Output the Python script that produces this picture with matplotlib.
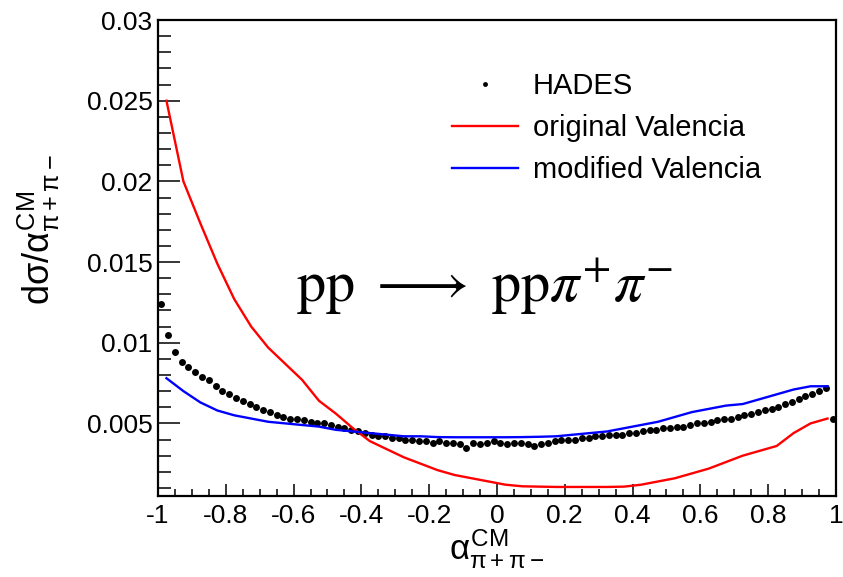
#!/usr/bin/env python3
"""
pp -> pp pi+ pi- : opening angle distribution, HADES data vs Valencia model
"""

import matplotlib
matplotlib.use('Agg')
import matplotlib.pyplot as plt
import numpy as np
from matplotlib.ticker import MultipleLocator, FuncFormatter

plt.rcParams['font.family'] = ['Liberation Sans', 'DejaVu Sans']
plt.rcParams['mathtext.fontset'] = 'custom'
plt.rcParams['mathtext.rm'] = 'Liberation Sans'
plt.rcParams['mathtext.it'] = 'Liberation Sans'
plt.rcParams['mathtext.bf'] = 'Liberation Sans:bold'

# HADES data points (bin centres every 0.02)
hades_x = np.round(np.arange(-0.99, 1.0, 0.02), 2)
hades_y = [
    0.0124, 0.0105, 0.0094, 0.0088, 0.0085, 0.0082, 0.0079, 0.0077, 0.0073, 0.0070,
    0.0068, 0.0066, 0.0064, 0.0062, 0.0060, 0.0058, 0.0057, 0.0055, 0.0054, 0.0053,
    0.0053, 0.0052, 0.0051, 0.0050, 0.0050, 0.0049, 0.0048, 0.0047, 0.0046, 0.0045,
    0.0044, 0.0043, 0.0042, 0.0042, 0.0041, 0.0041, 0.0040, 0.0040, 0.0039, 0.0039,
    0.0038, 0.0039, 0.0038, 0.0038, 0.0037, 0.0035, 0.0038, 0.0037, 0.0038, 0.0039,
    0.0038, 0.0037, 0.0038, 0.0038, 0.0037, 0.0036, 0.0037, 0.0038, 0.0039, 0.0040,
    0.0040, 0.0040, 0.0041, 0.0041, 0.0042, 0.0042, 0.0043, 0.0043, 0.0043, 0.0044,
    0.0044, 0.0045, 0.0046, 0.0046, 0.0047, 0.0047, 0.0048, 0.0048, 0.0049, 0.0050,
    0.0050, 0.0051, 0.0052, 0.0053, 0.0053, 0.0054, 0.0055, 0.0056, 0.0057, 0.0058,
    0.0059, 0.0060, 0.0062, 0.0063, 0.0065, 0.0067, 0.0068, 0.0070, 0.0072, 0.0053,
]

# model curves (bin centres every 0.05)
model_x = np.round(np.arange(-0.975, 1.0, 0.05), 3)
original_valencia = [
    0.0250, 0.0200, 0.0174, 0.0149, 0.0127, 0.0110, 0.0097, 0.0087, 0.0077, 0.0064,
    0.0056, 0.0047, 0.0039, 0.0034, 0.0029, 0.0025, 0.0021, 0.0018, 0.0016, 0.0014,
    0.0012, 0.0011, 0.00108, 0.00106, 0.00106, 0.00106, 0.00106, 0.00108, 0.0012, 0.0014,
    0.0016, 0.0019, 0.0022, 0.0026, 0.0030, 0.0033, 0.0036, 0.0044, 0.0050, 0.0053,
]
modified_valencia = [
    0.0078, 0.0070, 0.0063, 0.0058, 0.0055, 0.0053, 0.0051, 0.0050, 0.0049, 0.0048,
    0.0046, 0.0045, 0.0044, 0.0043, 0.0042, 0.0042, 0.00415, 0.00414, 0.00414, 0.00414,
    0.00414, 0.00415, 0.00417, 0.0042, 0.0043, 0.0044, 0.0045, 0.0047, 0.0049, 0.0051,
    0.0054, 0.0057, 0.0059, 0.0061, 0.0062, 0.0065, 0.0068, 0.0071, 0.0073, 0.0073,
]

fig = plt.figure(figsize=(8.43, 5.77), dpi=100)
ax = fig.add_axes([0.1874, 0.1404, 0.8043, 0.8249])

ax.plot(hades_x, hades_y, 'o', color='black', ms=5, mew=0, label='HADES')
ax.plot(model_x, original_valencia, color='#ff0000', lw=1.7, label='original Valencia')
ax.plot(model_x, modified_valencia, color='#0000ff', lw=1.7, label='modified Valencia')

ax.set_xlim(-1, 1)
ax.set_ylim(0.0005, 0.03)

ax.xaxis.set_major_locator(MultipleLocator(0.2))
ax.xaxis.set_minor_locator(MultipleLocator(0.05))
ax.yaxis.set_major_locator(MultipleLocator(0.005))
ax.yaxis.set_minor_locator(MultipleLocator(0.001))
ax.xaxis.set_major_formatter(FuncFormatter(lambda v, p: '%g' % round(v, 2) if abs(v) > 1e-9 else '0'))
ax.yaxis.set_major_formatter(FuncFormatter(lambda v, p: '%g' % round(v, 4)))

for s in ax.spines.values():
    s.set_linewidth(1.6)
ax.tick_params(axis='both', which='both', direction='in', top=False, right=False, width=1.1)
ax.tick_params(axis='y', which='major', length=16, pad=4, labelsize=19)
ax.tick_params(axis='y', which='minor', length=9)
ax.tick_params(axis='x', which='major', length=9, pad=6, labelsize=19)
ax.tick_params(axis='x', which='minor', length=5)

ax.set_xlabel(r'$\alpha^{CM}_{\pi+\pi-}$', fontsize=25)
ax.xaxis.set_label_coords(0.5, -0.066)
ax.set_ylabel(r'd$\sigma$/$\alpha^{CM}_{\pi+\pi-}$', fontsize=26)
ax.yaxis.set_label_coords(-0.142, 0.56)

ax.legend(loc='upper left', bbox_to_anchor=(0.434, 0.89), frameon=False, fontsize=21,
          handlelength=2.26, handletextpad=0.5, labelspacing=0.48, borderpad=0,
          borderaxespad=0, numpoints=1, markerscale=0.7)

fig.text(0.575, 0.503, r'$\mathrm{pp}\ \longrightarrow\ \mathrm{pp}\pi^{+}\pi^{-}$',
         fontsize=42, ha='center', va='center', math_fontfamily='stix')

fig.savefig('out.png', dpi=100)
plt.close(fig)
